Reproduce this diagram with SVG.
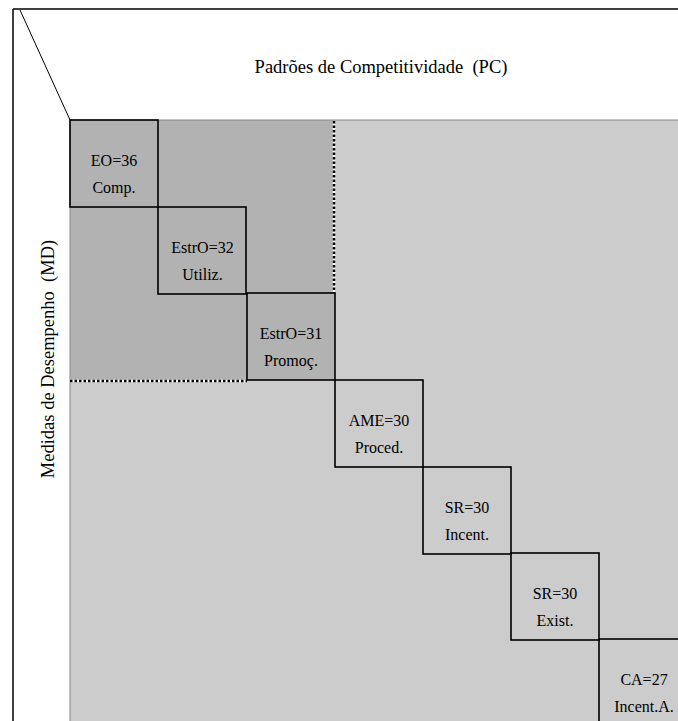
<svg xmlns="http://www.w3.org/2000/svg" width="678" height="721" viewBox="0 0 678 721">
<defs>
<rect id="cell" width="88" height="87" fill="none" stroke="#000" stroke-width="1.6"/>
</defs>
<rect x="0" y="0" width="678" height="721" fill="#fff"/>
<g id="frame">
<line x1="13" y1="9" x2="678" y2="9" stroke="#000" stroke-width="1.5"/>
<line x1="13" y1="9" x2="13" y2="721" stroke="#000" stroke-width="1.5"/>
<line x1="20" y1="10" x2="70" y2="120" stroke="#000" stroke-width="1"/>
</g>
<g id="background">
<rect x="70" y="120" width="608" height="601" fill="#cccccc"/>
<rect x="70" y="120" width="263" height="174" fill="#b2b2b2"/>
<rect x="70" y="120" width="177" height="261" fill="#b2b2b2"/>
<rect x="247" y="293" width="88" height="87" fill="#b2b2b2"/>
<line x1="70" y1="120" x2="678" y2="120" stroke="#888" stroke-width="1"/>
<line x1="70" y1="120" x2="70" y2="721" stroke="#888" stroke-width="1"/>
</g>
<g id="title"><text x="381" y="73" font-size="18.5" font-family="Liberation Serif" text-anchor="middle" xml:space="preserve">Padrões de Competitividade  (PC)</text></g>
<g id="axis-md"><text font-size="18.5" font-family="Liberation Serif" text-anchor="middle" xml:space="preserve" transform="translate(54,359) rotate(-90)">Medidas de Desempenho  (MD)</text></g>
<g id="connectors">
<line x1="334" y1="121" x2="334" y2="293" stroke="#fff" stroke-width="2.5"/>
<line x1="334" y1="121" x2="334" y2="293" stroke="#000" stroke-width="2.5" stroke-dasharray="2.5 2"/>
<line x1="70" y1="381" x2="247" y2="381" stroke="#fff" stroke-width="2.5"/>
<line x1="70" y1="381" x2="247" y2="381" stroke="#000" stroke-width="2.5" stroke-dasharray="2.5 2"/>
</g>
<g font-family="Liberation Serif" font-size="16" text-anchor="middle" fill="#000">
<g id="n1"><use href="#cell" x="70" y="120"/><text x="114" y="166">EO=36</text><text x="114" y="193">Comp.</text></g>
<g id="n2"><use href="#cell" x="158" y="207"/><text x="202.5" y="253">EstrO=32</text><text x="202.5" y="280">Utiliz.</text></g>
<g id="n3"><use href="#cell" x="247" y="293"/><text x="291" y="339">EstrO=31</text><text x="291" y="366">Promoç.</text></g>
<g id="n4"><use href="#cell" x="335" y="380"/><text x="379" y="426">AME=30</text><text x="379" y="453">Proced.</text></g>
<g id="n5"><use href="#cell" x="423" y="467"/><text x="467" y="513">SR=30</text><text x="467" y="540">Incent.</text></g>
<g id="n6"><use href="#cell" x="511" y="553"/><text x="555" y="599">SR=30</text><text x="555" y="626">Exist.</text></g>
<g id="n7"><rect x="599" y="639" width="100" height="100" fill="none" stroke="#000" stroke-width="1.6"/><text x="644" y="685">CA=27</text><text x="644" y="712">Incent.A.</text></g>
</g>
</svg>
